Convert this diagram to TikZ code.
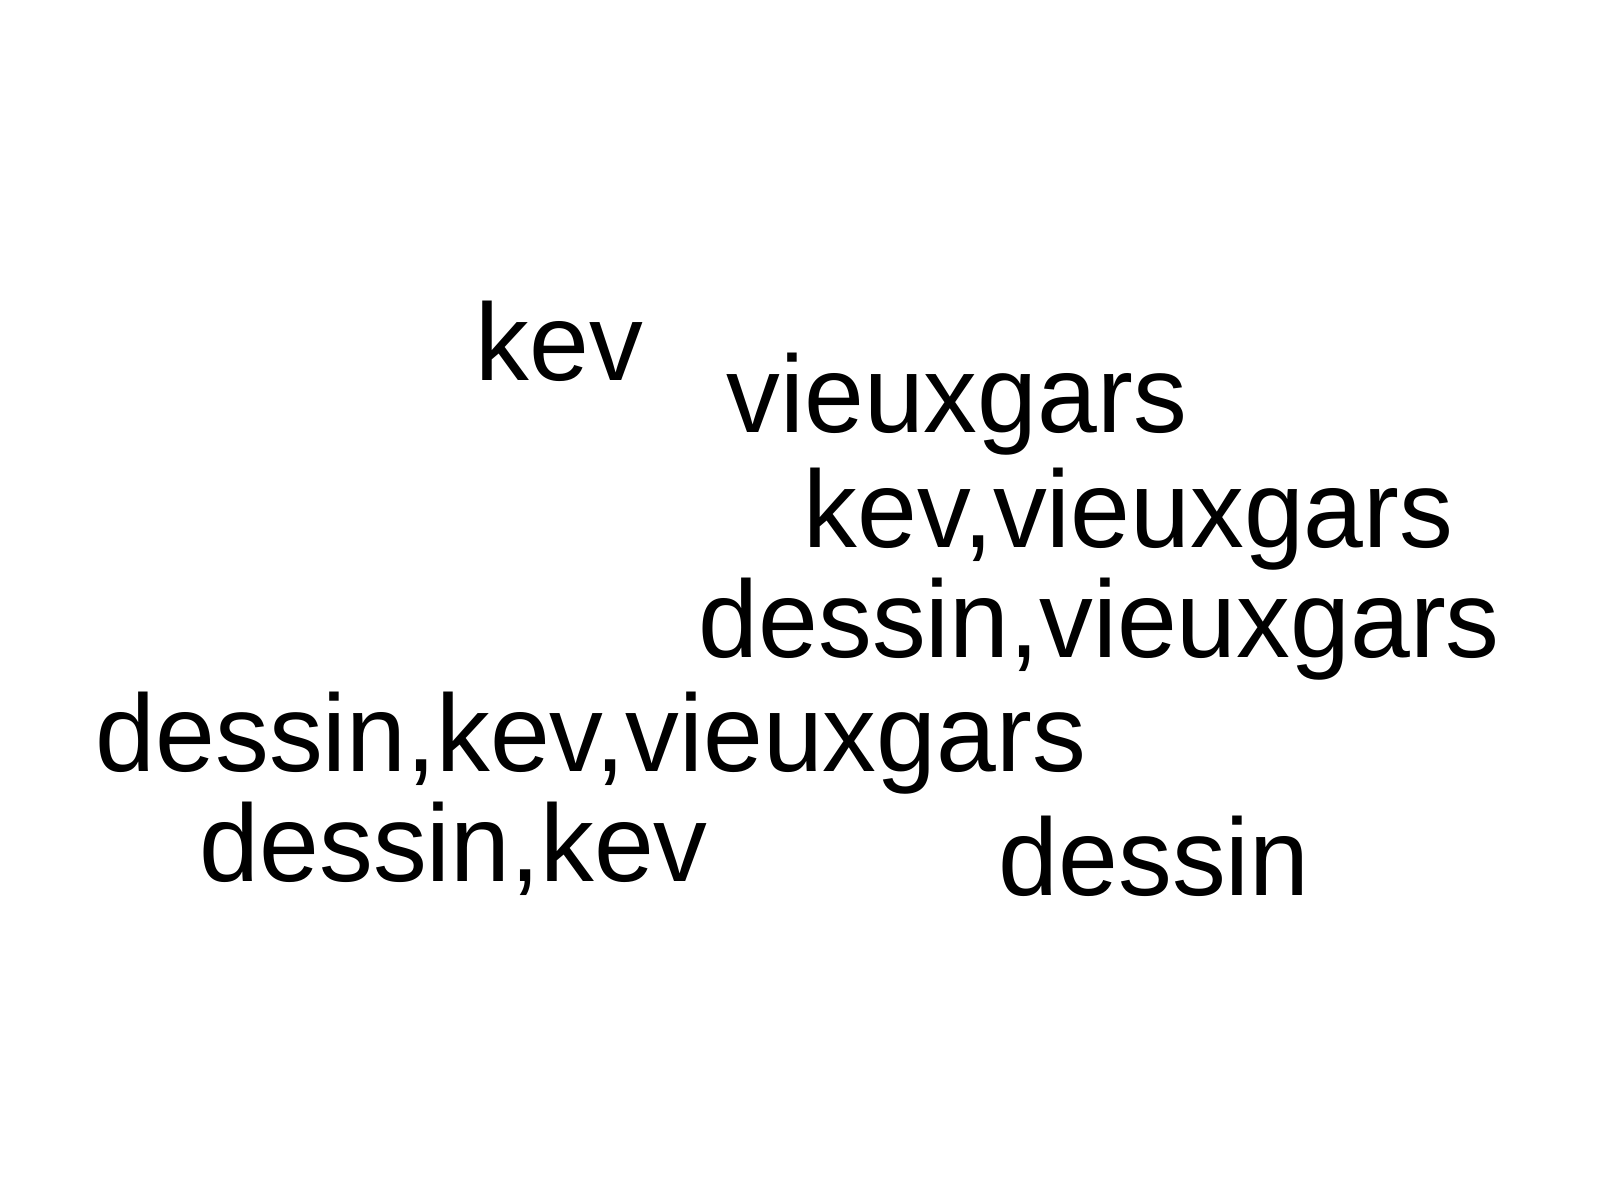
\documentclass[tikz,border=0pt]{standalone}
\usepackage{fontspec}
\setmainfont{Liberation Sans}
\usepackage{tikz}

\tikzset{word/.style={anchor=base west, inner sep=0pt, yscale=1.02, font=\fontsize{30.6}{36}\selectfont}}

\begin{document}
\begin{tikzpicture}
        \useasboundingbox (0,0) rectangle (16,12);
        \node [word] (kev) at (4.75,8.19) {kev};
        \node [word] (vg) at (7.26,7.68) {vieuxgars};
        \node [word] (kevvg) at (8.03,6.53) {kev,vieuxgars};
        \node [word] (dessinvg) at (6.98,5.43) {dessin,vieuxgars};
        \node [word] (all) at (0.95,4.29) {dessin,kev,vieuxgars};
        \node [word] (dessinkev) at (1.99,3.19) {dessin,kev};
        \node [word] (dessin) at (9.98,3.05) {dessin};
    \end{tikzpicture}
\end{document}
